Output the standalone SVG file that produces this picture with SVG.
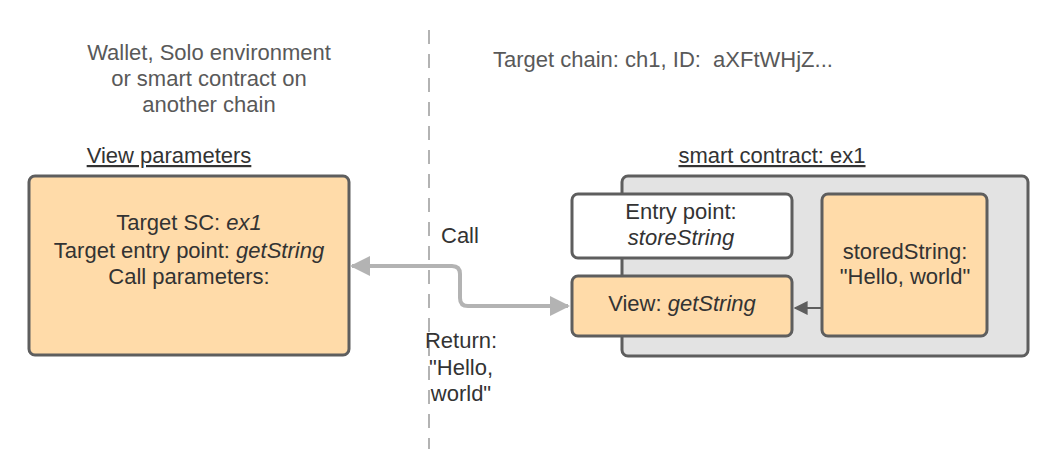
<svg xmlns="http://www.w3.org/2000/svg" width="1049" height="449" viewBox="0 0 1049 449">
<style>
text{font-family:"Liberation Sans",Arial,sans-serif;font-size:22px;fill:#333333}
.hdr{fill:#595959}
.c{text-anchor:middle}
.i{font-style:italic}
.box{stroke:#5e5e5e;stroke-width:3}
.org{fill:#ffdba9}
</style>
<defs>
<marker id="ag" viewBox="0 0 10 10" refX="9" refY="5" markerWidth="5" markerHeight="5" orient="auto-start-reverse" markerUnits="strokeWidth"><path d="M0,0 L10,5 L0,10 z" fill="#b3b3b3"/></marker>
<marker id="ad" viewBox="0 0 10 10" refX="9" refY="5" markerWidth="7" markerHeight="7" orient="auto" markerUnits="strokeWidth"><path d="M0,0 L10,5 L0,10 z" fill="#5e5e5e"/></marker>
</defs>
<rect width="1049" height="449" fill="#ffffff"/>
<line x1="429" y1="30" x2="429" y2="449" stroke="#b3b3b3" stroke-width="2" stroke-dasharray="14,10"/>
<g id="left-header">
<text class="c hdr" x="209" y="60">Wallet, Solo environment</text>
<text class="c hdr" x="209" y="86">or smart contract on</text>
<text class="c hdr" x="209" y="112">another chain</text>
<text class="c" x="169" y="163" text-decoration="underline">View parameters</text>
</g>
<g id="right-header">
<text class="hdr" x="493" y="67" xml:space="preserve">Target chain: ch1, ID:  aXFtWHjZ...</text>
<text class="c" x="772" y="163" text-decoration="underline">smart contract: ex1</text>
</g>
<g id="view-parameters">
<rect class="box org" x="29" y="176" width="320" height="179" rx="6"/>
<text class="c" x="189" y="230">Target SC: <tspan class="i">ex1</tspan></text>
<text class="c" x="189" y="258">Target entry point: <tspan class="i">getString</tspan></text>
<text class="c" x="189" y="284">Call parameters:</text>
</g>
<g id="smart-contract">
<rect class="box" x="622" y="176" width="406" height="180" rx="6" fill="#e3e3e3"/>
</g>
<g id="entry-point">
<rect class="box" x="572" y="194" width="220" height="64" rx="6" fill="#ffffff"/>
<text class="c" x="681" y="219">Entry point:</text>
<text class="c i" x="681" y="245">storeString</text>
</g>
<g id="view-getstring">
<rect class="box org" x="572" y="276" width="220" height="60" rx="6"/>
<text class="c" x="682" y="311">View: <tspan class="i">getString</tspan></text>
</g>
<g id="stored-string">
<rect class="box org" x="822" y="194" width="165" height="142" rx="6"/>
<text class="c" x="905" y="259">storedString:</text>
<text class="c" x="905" y="284">"Hello, world"</text>
</g>
<g id="connectors">
<path d="M568,306 H468 Q460,306 460,298 V274 Q460,266 452,266 H352" fill="none" stroke="#b3b3b3" stroke-width="4" marker-start="url(#ag)" marker-end="url(#ag)"/>
<line x1="822" y1="308" x2="795" y2="308" stroke="#5e5e5e" stroke-width="2" marker-end="url(#ad)"/>
</g>
<g id="labels">
<text x="441" y="243">Call</text>
<text class="c" x="461" y="348">Return:</text>
<text class="c" x="461" y="375">"Hello,</text>
<text class="c" x="461" y="401">world"</text>
</g>
</svg>
